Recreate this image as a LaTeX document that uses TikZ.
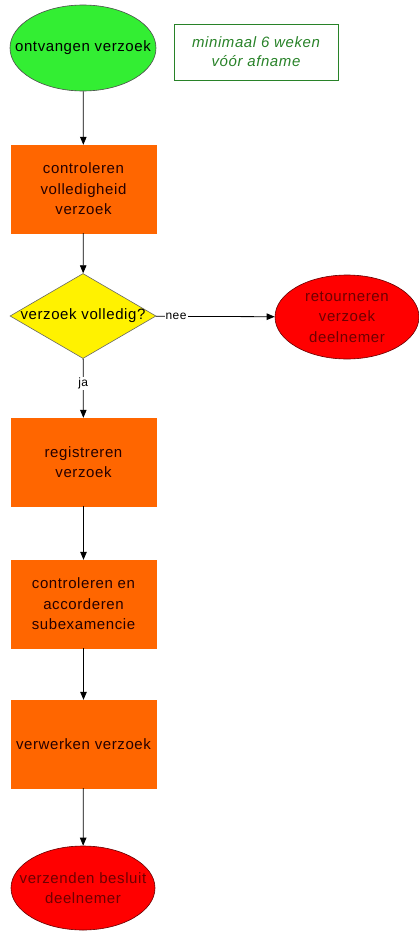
\documentclass[tikz,border=0pt]{standalone}
\usepackage{fontspec}
\setmainfont[LetterSpace=4]{Liberation Sans}
\usetikzlibrary{shapes.geometric,arrows.meta}
\definecolor{startgreen}{RGB}{51,238,51}
\definecolor{notegreen}{RGB}{40,130,40}
\definecolor{steporange}{RGB}{255,102,0}
\definecolor{endred}{RGB}{255,0,0}
\definecolor{darkredtext}{RGB}{110,0,0}
\tikzset{
  every node/.style={font=\fontsize{15}{20.5}\selectfont, align=center},
  stepbox/.style={rectangle, fill=steporange, draw=steporange, minimum width=145pt, minimum height=88pt, inner sep=0pt, text=black!85!red},
  startoval/.style={ellipse, fill=startgreen, draw=black!70, line width=0.6pt, minimum width=146pt, minimum height=86pt, inner sep=0pt},
  endoval/.style={ellipse, fill=endred, draw=black!60!red, line width=0.6pt, minimum width=144pt, minimum height=84pt, inner sep=0pt, label={[text=darkredtext]center:#1}},
  decision/.style={diamond, fill=yellow, draw=black!60, line width=0.6pt, minimum width=146pt, minimum height=85pt, inner sep=0pt, aspect=1.7},
  flow/.style={draw=black, line width=0.8pt, -{Triangle[length=8pt,width=6.5pt]}},
  edgelabel/.style={font=\fontsize{12}{14}\selectfont, fill=white, inner sep=1pt}
}
\begin{document}
\begin{tikzpicture}[x=1pt,y=-1pt]
\useasboundingbox (0,0) rectangle (419,931);
\node[startoval, label={center:ontvangen verzoek}] (start) at (83,48) {};
\node[draw=notegreen, line width=0.8pt, minimum width=164pt, minimum height=56pt, inner sep=0pt,
      text=notegreen, font=\fontsize{15}{19}\selectfont\itshape] (note) at (256,52) {minimaal 6 weken\\vóór afname};
\node[stepbox] (check) at (83.5,189) {controleren\\volledigheid\\verzoek};
\node[decision, label={center:verzoek volledig?}] (complete) at (83,316) {};
\node[endoval={retourneren\\verzoek\\deelnemer}] (return) at (347,317) {};
\node[stepbox] (register) at (83.5,462) {registreren\\verzoek};
\node[stepbox] (approve) at (83.5,604) {controleren en\\accorderen\\subexamencie};
\node[stepbox] (process) at (83.5,744) {verwerken verzoek};
\node[endoval={verzenden besluit\\deelnemer}] (send) at (83,888) {};
\draw[flow] (start) -- (check);
\draw[flow] (check) -- (complete);
\draw[flow] (complete) -- node[edgelabel, pos=0.17] {nee} (return);
\draw[flow] (complete) -- node[edgelabel, pos=0.42] {ja} (register);
\draw[flow] (register) -- (approve);
\draw[flow] (approve) -- (process);
\draw[flow] (process) -- (send);
\end{tikzpicture}
\end{document}
